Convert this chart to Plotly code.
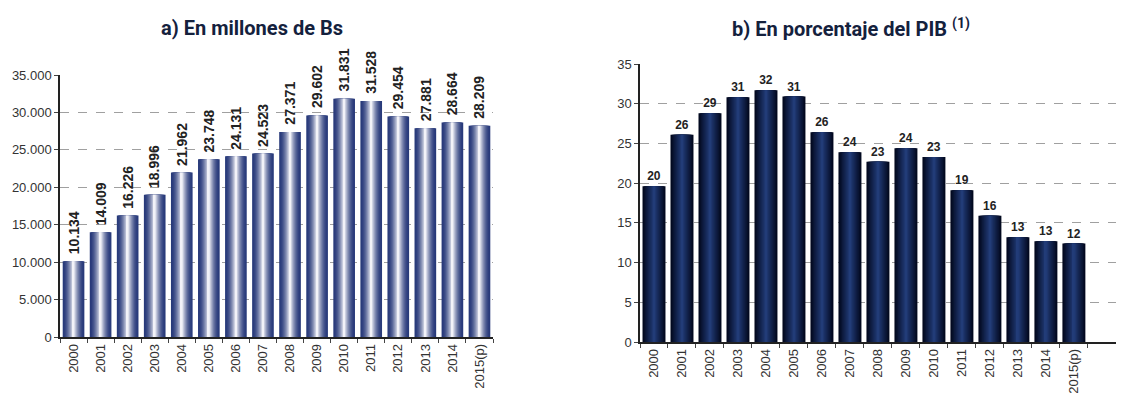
import plotly.graph_objects as go

years = ['2000', '2001', '2002', '2003', '2004', '2005', '2006', '2007',
         '2008', '2009', '2010', '2011', '2012', '2013', '2014', '2015(p)']
millones_bs = [10134, 14009, 16226, 18996, 21962, 23748, 24131, 24523,
               27371, 29602, 31831, 31528, 29454, 27881, 28664, 28209]
pct_pib = [19.6, 26.1, 28.8, 30.8, 31.7, 30.9, 26.4, 23.9,
           22.7, 24.4, 23.3, 19.1, 15.9, 13.2, 12.7, 12.4]

# the page body has an 8px margin, so the figure is a bit smaller than the window
W, H, PAD = 1116, 387, 8

TITLE_FONT = dict(family='Roboto, Liberation Sans, Arial', size=20, color='#14213d')
TICK_FONT = dict(family='Liberation Sans, Arial', size=13, color='#333333')
LABEL_FONT = dict(family='Liberation Sans, Arial', size=14, color='#222222')
RIGHT_LABEL_FONT = dict(family='Liberation Sans, Arial', size=12, color='#222222')


def px_x(px):
    return (px - PAD) / W


def px_y(py):
    return 1 - (py - PAD) / H


def mix(c1, c2, t):
    """Blend two rgb tuples."""
    return 'rgb({},{},{})'.format(*[round(a + (b - a) * t) for a, b in zip(c1, c2)])


def gradient_bars(fig, x, y, xaxis, yaxis, edge, centre, text=None,
                  width=0.8, steps=10, power=1.0):
    """Fake a horizontal gradient by overlaying narrower, lighter bars."""
    for i in range(steps):
        t = i / (steps - 1)
        extra = {}
        if i == 0 and text:
            extra = dict(texttemplate=text, textposition='outside', textangle=0,
                         constraintext='none', textfont=RIGHT_LABEL_FONT,
                         outsidetextfont=RIGHT_LABEL_FONT)
        fig.add_trace(go.Bar(
            x=x, y=y, xaxis=xaxis, yaxis=yaxis,
            width=width * (1 - 0.92 * t),
            marker=dict(color=mix(edge, centre, t ** power), line=dict(width=0)),
            hoverinfo='skip' if i else None,
            showlegend=False,
            cliponaxis=False,
            **extra,
        ))


fig = go.Figure()
gradient_bars(fig, years, millones_bs, 'x', 'y', (40, 58, 122), (242, 242, 248),
              power=1.7)
gradient_bars(fig, years, pct_pib, 'x2', 'y2', (2, 8, 30), (34, 60, 120),
              text='<b>%{y:.0f}</b>', width=0.82)

# rotated value labels on the left chart (x given as category index)
value_labels = [
    dict(x=i, y=v, xref='x', yref='y', text='<b>{:,}</b>'.format(v).replace(',', '.'),
         textangle=-90, showarrow=False, xanchor='center', yanchor='bottom', yshift=5,
         font=LABEL_FONT)
    for i, v in enumerate(millones_bs)
]

axis_common = dict(showline=True, linecolor='#222222', linewidth=1.5,
                   tickfont=TICK_FONT, automargin=False)

fig.update_layout(
    width=W, height=H,
    margin=dict(l=0, r=0, t=0, b=0),
    paper_bgcolor='white', plot_bgcolor='white',
    barmode='overlay', bargap=0.2,
    separators=',.',
    showlegend=False,
    xaxis=dict(domain=[px_x(60), px_x(493)], type='category', tickangle=-90,
               range=[-0.5, len(years) - 0.5],
               ticks='outside', ticklen=4, tickson='boundaries', showgrid=False,
               **axis_common),
    yaxis=dict(domain=[px_y(337), px_y(75)], range=[0, 35000], dtick=5000,
               tickformat=',d', ticks='outside', ticklen=4, showgrid=True,
               gridcolor='#a0a0a0', griddash='dash', gridwidth=1, zeroline=False,
               anchor='x', **axis_common),
    xaxis2=dict(domain=[px_x(640), 1.0], type='category', tickangle=-90,
                range=[-0.5, 16.79], ticks='outside', ticklen=4, tickson='boundaries',
                showgrid=False, anchor='y2', **axis_common),
    yaxis2=dict(domain=[px_y(342), px_y(64)], range=[0, 35], dtick=5,
                ticks='outside', ticklen=4, showgrid=True, gridcolor='#a0a0a0',
                griddash='dash', gridwidth=1, zeroline=False, anchor='x2',
                **axis_common),
    annotations=value_labels + [
        dict(text='<b>a) En millones de Bs</b>', x=px_x(252), y=px_y(28),
             xref='paper', yref='paper', showarrow=False, font=TITLE_FONT,
             xanchor='center', yanchor='middle'),
        dict(text='<b>b) En porcentaje del PIB</b> <sup><b>(1)</b></sup>',
             x=px_x(851), y=px_y(28), xref='paper', yref='paper',
             showarrow=False, font=TITLE_FONT, xanchor='center', yanchor='middle'),
    ],
)

fig.write_html('out.html')
